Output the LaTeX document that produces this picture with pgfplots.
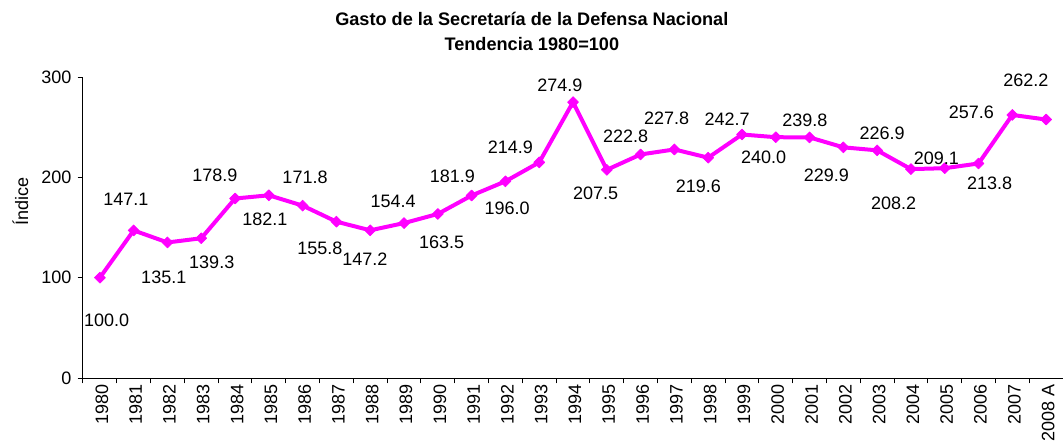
\documentclass[border=0pt]{standalone}
\usepackage{fontspec}
\setmainfont{Liberation Sans}
\usepackage{pgfplots}
\usepackage{pgfplotstable}
\pgfplotsset{compat=1.18}
\definecolor{mag}{RGB}{255,0,255}
\pgfplotstableread{
x y
0 100.0
1 147.1
2 135.1
3 139.3
4 178.9
5 182.1
6 171.8
7 155.8
8 147.2
9 154.4
10 163.5
11 181.9
12 196.0
13 214.9
14 274.9
15 207.5
16 222.8
17 227.8
18 219.6
19 242.7
20 240.0
21 239.8
22 229.9
23 226.9
24 208.2
25 209.1
26 213.8
27 262.2
28 257.6
}\datatable
\pgfplotstableread{
x y lab
0.2 57.7 100.0
0.77 178.4 147.1
1.89 100.4 135.1
3.31 115.4 139.3
3.40 201.7 178.9
4.88 157.7 182.1
6.07 200.4 171.8
6.51 129.4 155.8
7.84 118.4 147.2
8.68 176.0 154.4
10.11 135.0 163.5
10.43 201.0 181.9
12.05 169.4 196.0
12.15 230.4 214.9
13.61 291.7 274.9
14.67 184.4 207.5
15.56 240.4 222.8
16.77 258.7 227.8
17.71 191.0 219.6
18.56 258.4 242.7
19.64 220.4 240.0
20.86 257.0 239.8
21.50 202.0 229.9
23.15 243.7 226.9
23.49 174.4 208.2
24.75 218.7 209.1
26.33 193.7 213.8
25.79 265.0 257.6
27.40 297.0 262.2
}\labeltable
\begin{document}
\fontsize{13.5}{16}\selectfont
\begin{tikzpicture}
\begin{axis}[
  scale only axis, width=735pt, height=225.75pt,
  at={(0,0)}, anchor=south west,
  xmin=-0.5, xmax=28.5, ymin=0, ymax=300,
  axis x line*=bottom, axis y line*=left,
  axis line style={black, line width=0.75pt, -},
  ytick={0,100,200,300},
  /pgf/number format/assume math mode=true,
  tick align=outside,
  major tick length=4pt,
  tick style={black, line width=0.75pt},
  xtick={-0.5,0.5,...,28.5},
  xticklabels={},
  extra x ticks={0,1,...,28},
  extra x tick labels={1980,1981,1982,1983,1984,1985,1986,1987,1988,1989,1990,1991,1992,1993,1994,1995,1996,1997,1998,1999,2000,2001,2002,2003,2004,2005,2006,2007,2008 A},
  extra x tick style={major tick length=0pt, tick label style={rotate=90, anchor=east, yshift=-1.5pt}},
  ylabel={Índice},
  ylabel style={at={(axis description cs:-0.064,0.585)}, anchor=center, rotate=0},
  title={Gasto de la Secretaría de la Defensa Nacional\\Tendencia 1980=100},
  title style={font=\fontsize{13.6}{19}\selectfont\bfseries, align=center, inner sep=0pt,
    at={(axis description cs:0.458,1.19)}, anchor=north},
  clip=false,
]
\addplot[mag, line width=3pt, line join=round, mark=square*, mark size=2.9pt,
  mark options={rotate=45, fill=mag, draw=mag, line width=0.5pt, solid}]
  table[x=x, y=y] {\datatable};
\addplot[draw=none, mark=none, nodes near coords, point meta=explicit symbolic,
  every node near coord/.append style={anchor=center, inner sep=0pt, black}]
  table[x=x, y=y, meta=lab] {\labeltable};
\end{axis}
\pgfresetboundingbox
\path[use as bounding box] (-62.25pt,-48.75pt) rectangle (735pt,283.5pt);
\end{tikzpicture}
\end{document}
